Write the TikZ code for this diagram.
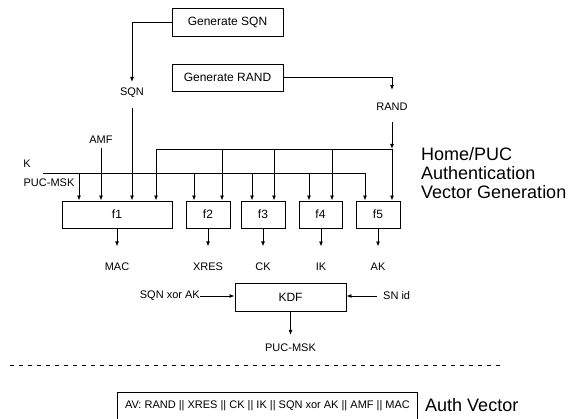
\documentclass[tikz,border=0pt]{standalone}
\usepackage{fontspec}
\setmainfont{Liberation Sans}
\usetikzlibrary{arrows.meta}
\begin{document}
\begin{tikzpicture}[x=1pt,y=-1pt,
  box/.style={draw, line width=0.9pt, inner sep=0pt, font=\fontsize{12}{14}\selectfont},
  lbl/.style={inner sep=0pt, font=\fontsize{11}{13}\selectfont},
  conn/.style={line width=0.9pt},
  arr/.style={conn, -{Latex[length=5pt,width=4pt]}},
  big/.style={font=\fontsize{18}{19}\selectfont, align=left, inner sep=0pt}]
\useasboundingbox (0,0) rectangle (571,419);
% boxes
\node[box, minimum width=111pt, minimum height=28pt] (gsqn) at (227.5,22) {Generate SQN};
\node[box, minimum width=111pt, minimum height=27pt] (grand) at (227.5,77.5) {Generate RAND};
\node[box, minimum width=110pt, minimum height=27pt] (f1) at (117,214.5) {f1};
\node[box, minimum width=44pt, minimum height=27pt] (f2) at (208,214.5) {f2};
\node[box, minimum width=44pt, minimum height=27pt] (f3) at (263,214.5) {f3};
\node[box, minimum width=43pt, minimum height=27pt] (f4) at (320.5,214.5) {f4};
\node[box, minimum width=44pt, minimum height=27pt] (f5) at (378,214.5) {f5};
\node[box, minimum width=111pt, minimum height=28pt] (kdf) at (290.5,297) {KDF};
% labels
\node[lbl] (sqn) at (132,93) {SQN};
\node[lbl] (rand) at (392,107) {RAND};
\node[lbl] (amf) at (101,140) {AMF};
\node[lbl] (k) at (27,164) {K};
\node[lbl] (pucmsk) at (49,183) {PUC-MSK};
\node[lbl] (mac) at (117,266.5) {MAC};
\node[lbl] (xres) at (208,266.5) {XRES};
\node[lbl] (ck) at (263,266.5) {CK};
\node[lbl] (ik) at (321,266.5) {IK};
\node[lbl] (ak) at (378,266.5) {AK};
\node[lbl, anchor=east] (sxa) at (200,296) {SQN xor AK};
\node[lbl, anchor=west] (snid) at (383,296) {SN id};
\node[lbl] (pucout) at (290.5,348) {PUC-MSK};
\node[big, anchor=north west] (title) at (421,147) {Home/PUC\\Authentication\\Vector Generation};
% SQN path
\draw[arr, shorten >=6pt] (gsqn.west) -| (sqn.north);
\draw[arr, shorten <=10pt] (sqn.south) -- (sqn.south |- f1.north);
% RAND path
\coordinate (busR) at (392,149);
\coordinate (busL) at (156,149);
\draw[arr, shorten >=13pt] (grand.east) -| (rand.north);
\draw[arr, shorten <=11pt] (rand.south) -- (busR);
\draw[arr] (busR) -- (busR |- f5.north);
\draw[conn] (busL) -- (busR);
\foreach \x/\f in {156/f1,222/f2,274/f3,332/f4}
  \draw[arr] (\x,149) -- (\x,0 |- \f.north);
% K bus
\coordinate (kL) at (43,173);
\coordinate (kR) at (365,173);
\draw[conn] (kL) -- (kR);
\foreach \x/\f in {79/f1,194/f2,252/f3,309/f4,365/f5}
  \draw[arr] (\x,173) -- (\x,0 |- \f.north);
% AMF
\draw[arr, shorten <=4pt] (amf.south) -- (amf.south |- f1.north);
% outputs
\draw[arr, shorten >=16pt] (f1.south) -- (mac.north);
\draw[arr, shorten >=16pt] (f2.south) -- (xres.north);
\draw[arr, shorten >=16pt] (f3.south) -- (ck.north);
\draw[arr, shorten >=16pt] (f4.south -| ik) -- (ik.north);
\draw[arr, shorten >=16pt] (f5.south) -- (ak.north);
% KDF
\draw[arr] (sxa.east) -- (sxa.east -| kdf.west);
\draw[arr, shorten <=6pt] (snid.west) -- (snid.west -| kdf.east);
\draw[arr, shorten >=9pt] (kdf.south) -- (pucout.north);
% separator
\coordinate (dL) at (10,365);
\coordinate (dR) at (500,365);
\draw[conn, dash pattern=on 4pt off 5pt] (dL) -- (dR);
% auth vector
\node[draw, line width=0.9pt, anchor=north west, minimum width=300pt, inner xsep=4pt, inner ysep=8pt,
  text height=8pt, text depth=20pt, font=\fontsize{11}{13}\selectfont] (av) at (117,392)
  {AV: RAND || XRES || CK || IK || SQN xor AK || AMF || MAC};
\node[big, anchor=base west] (avlbl) at (425,412) {Auth Vector};
\end{tikzpicture}
\end{document}
